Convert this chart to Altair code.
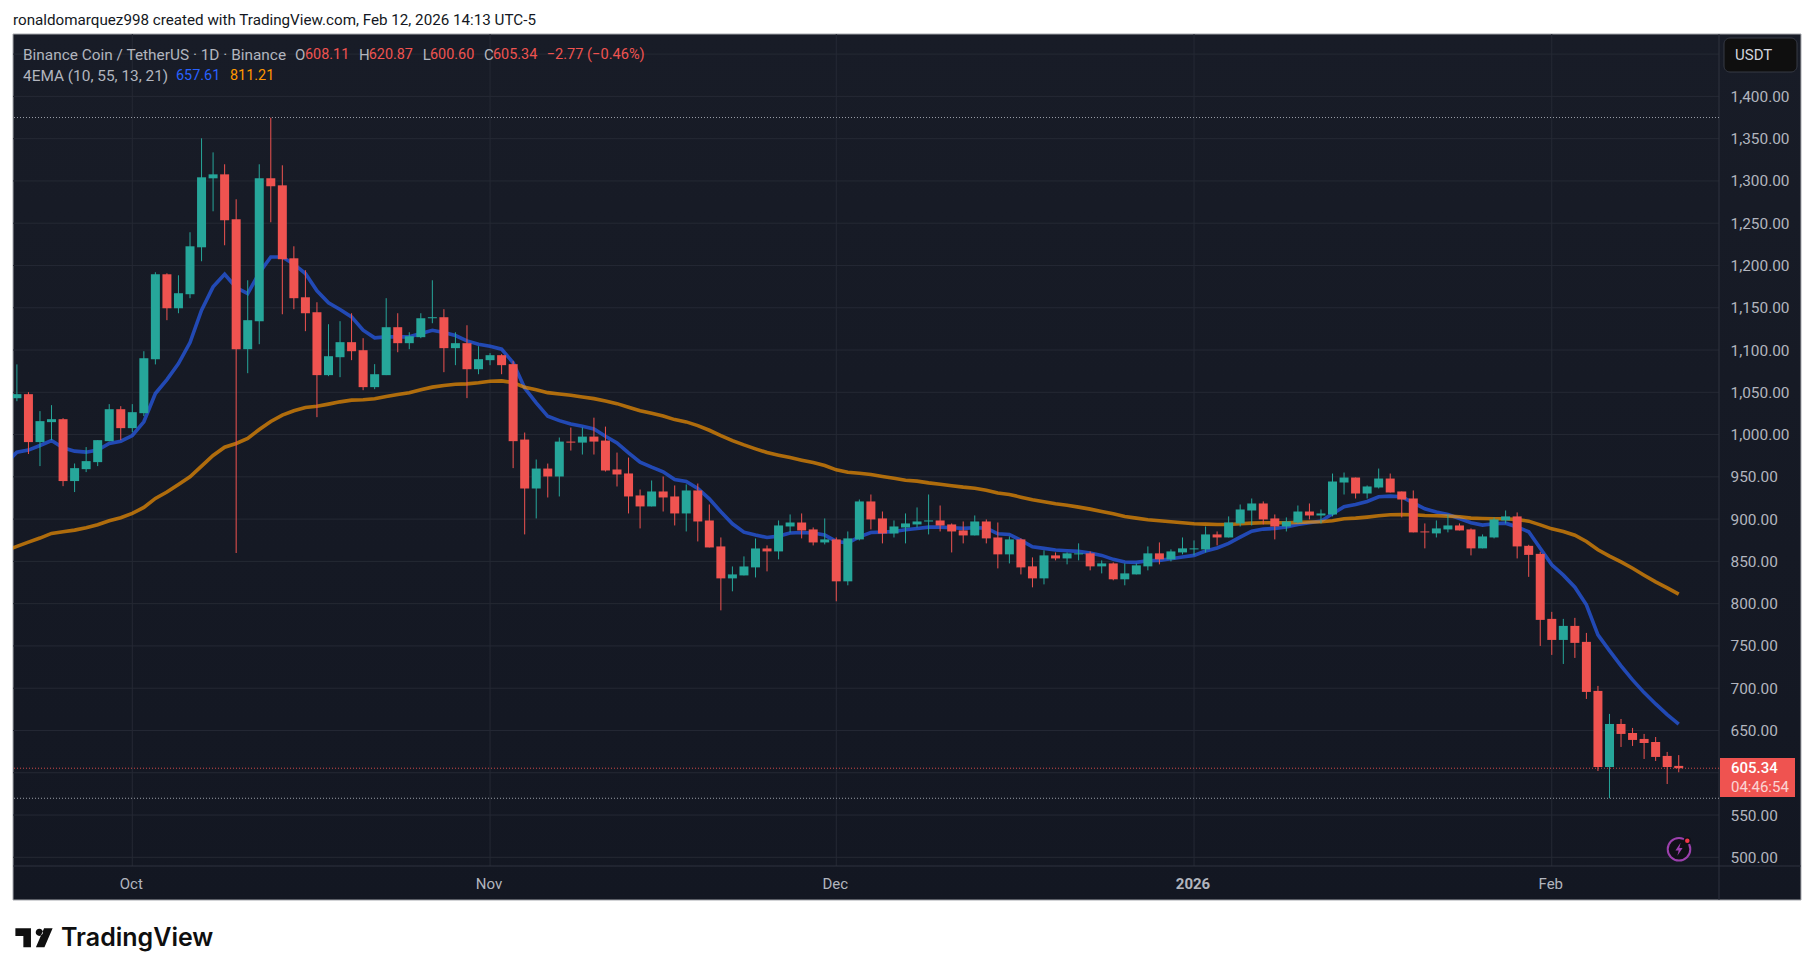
import altair as alt
import pandas as pd

# Daily candles, Sep 21 2025 (index 0) to Feb 12 2026 (index 144)
opens = [1043.0,1047.8,991.1,1014.7,1018.2,945.0,959.1,967.4,992.2,1030.0,
1007.6,1025.3,1089.2,1189.6,1149.4,1166.0,1221.5,1303.1,1307.8,1254.6,
1101.0,1134.1,1303.1,1294.8,1208.5,1162.4,1144.7,1070.3,1091.5,1109.3,
1099.8,1056.1,1070.3,1127.0,1108.1,1115.2,1137.6,1138.8,1102.2,1108.1,
1077.3,1088.0,1093.9,1083.3,994.1,936.2,959.8,950.4,991.7,990.5,
997.6,992.9,958.7,954.0,928.0,915.0,932.7,926.8,906.7,933.9,
898.4,867.7,829.9,833.4,842.9,865.3,861.8,891.3,896.0,887.8,
872.4,876.0,826.4,876.0,920.9,900.8,883.0,890.1,893.7,897.2,
898.4,893.7,886.6,880.7,897.2,878.3,858.3,876.0,844.1,829.9,
857.1,853.5,858.3,859.5,844.1,847.6,828.8,834.6,844.1,859.5,
852.4,860.6,864.2,864.2,881.9,878.3,894.9,910.2,918.5,900.8,
891.3,896.0,909.0,904.3,905.5,943.3,949.2,930.3,937.4,948.0,
932.7,924.4,885.4,883.1,887.8,892.5,887.8,865.4,878.3,898.4,
903.2,868.4,858.9,782.0,757.1,773.7,754.8,696.8,606.8,657.7,
647.0,640.0,636.4,619.9,608.11]
closes = [1047.8,991.1,1015.9,1018.2,945.0,960.3,968.6,993.4,1030.0,1007.6,
1026.5,1090.3,1189.6,1149.4,1167.2,1222.7,1304.3,1307.8,1253.5,1101.0,
1135.3,1303.1,1293.6,1207.4,1161.3,1143.5,1070.3,1092.7,1109.3,1098.6,
1056.1,1071.4,1127.0,1108.1,1116.3,1137.6,1138.8,1102.2,1108.1,1077.3,
1089.2,1093.9,1082.1,992.2,936.2,959.8,950.4,991.7,990.5,997.6,
991.7,957.5,952.8,926.8,915.0,932.7,925.6,906.7,933.9,897.2,
866.5,829.9,834.6,844.0,865.3,861.8,892.5,896.0,886.6,872.4,
876.0,826.4,877.2,920.9,899.6,883.0,891.3,894.9,897.2,898.4,
892.5,885.4,880.7,897.2,877.2,858.3,876.0,842.9,829.9,857.1,
853.5,859.5,859.5,844.1,847.6,828.8,835.8,845.3,859.5,852.4,
861.8,865.4,865.4,881.9,878.3,896.0,911.4,918.5,899.6,891.3,
897.2,909.0,904.3,906.7,944.5,949.2,930.3,938.6,948.0,931.5,
923.2,884.3,884.3,889.0,892.5,886.6,865.4,879.5,899.6,903.2,
867.7,857.7,780.8,757.1,773.7,753.6,695.6,606.8,657.7,645.9,
638.8,635.2,618.7,606.8,605.34]
highs = [1083,1050.2,1027.7,1034.8,1019.4,965.8,985.2,993.4,1036,1033.6,
1036,1098.6,1192,1190.8,1188.4,1239.3,1350.4,1333.8,1319.7,1278.3,
1182.5,1319.7,1374.8,1318.5,1222.7,1194.4,1156.5,1130.5,1134.1,1143.5,
1114,1083.3,1161.3,1143.5,1121,1143.5,1182.5,1148.3,1121,1129.3,
1104.5,1096.3,1095.1,1086.8,1002.4,970.5,965.7,996.5,1008.3,1008.3,
1020,1009.4,978.7,972.8,935,945.7,950.4,939.8,941,942.1,
917.3,878.3,844,855.9,877.1,868.9,898.4,905.5,906.7,890.1,
900.8,878.3,885.4,923.2,929.1,909,898.4,906.7,913.8,929.1,
916.1,894.9,897.2,904.3,899.6,896,879.5,877.2,854.7,863,
860.6,860.6,871.3,861.8,851.2,848.8,847.6,847.6,867.7,872.4,
864.2,878.3,874.8,891.3,885.4,903.2,917.3,924.4,920.9,905.5,
902,916.1,918.5,911.4,953.9,955.1,949.2,939.8,959.8,953.9,
932.7,933.9,894.9,898.4,905.5,894.9,889,881.9,902,910.2,
907.9,869.6,861.3,790.3,782,783.2,765.4,702.7,669.6,663.6,
653,645.9,642.3,624.6,620.87]
lows = [1039.5,977,962.7,993.4,939,932,955.6,962.7,992,993.4,
1002.9,1021.8,1083,1135.3,1143.5,1161.3,1205,1264.1,1223.9,859.9,
1072.6,1106.9,1251.1,1142.3,1148.3,1122.3,1020.6,1069.1,1067.9,1088,
1052.5,1053.7,1070.3,1097.4,1101,1114,1131.7,1073.8,1082.1,1043.1,
1071.4,1082.1,1071.4,960.3,881.9,900.8,925.6,926.8,981.1,976.4,
976.4,956.3,938.6,906.7,889,915,909,892.5,885.4,873.6,
866.5,792.1,814.6,833.4,831,838.2,852.4,884.2,877.2,868.9,
870.1,802.8,821.7,874.8,887.8,871.3,878.3,871.3,890.1,881.9,
885.4,860.6,871.3,880.7,871.3,841.7,847.6,834.6,819.3,822.8,
851.2,846.5,851.2,839.4,835.8,827.6,821.7,834.6,839.4,846.5,
850,858.3,857.1,860.6,868.9,878.3,891.3,892.5,893.7,876,
885.4,894.9,899.6,894.9,903.2,929.1,924.4,924.4,936.2,931.5,
902,884.3,865.4,878.3,884.3,886.6,857.1,865.4,877.2,894.9,
853.5,831.7,750,739.4,728.7,735.8,687.3,602.1,569.8,630.5,
631.7,616.3,613.9,586.7,600.6]

# EMA series start one day earlier (index -1)
ema_fast = [965,979.2,981.6,987.1,993,984.4,980.4,979.2,981.6,989.5,992.2,
998.9,1015.1,1048.6,1065.1,1084,1108.9,1147.1,1174.7,1189.6,1173.9,
1166.8,1191.2,1210.1,1210.1,1201.5,1190.4,1170,1155.8,1147.9,1139.2,
1123.4,1114.4,1115.6,1115.6,1115.6,1119.5,1123.4,1120.7,1117.1,1110.8,
1106.9,1104.5,1101,1085,1055,1037.4,1021.6,1016.5,1012.6,1009.8,
1006.7,998,990.2,978.3,967.3,961.4,955.9,946.8,944.5,936.2,
924,908.7,894.5,884.6,881.1,878.3,879.9,883.5,884.2,883.5,
881.1,873.6,872,879.1,884.2,884.6,885.4,887.4,889,890.5,
890.5,889.8,889,889.8,889.4,882.7,881.9,874.8,867.3,865.4,
863.4,862.6,861.8,859.8,857.1,852.4,849.2,848.8,850.8,851.2,
853.2,855.1,857.1,862.2,865.8,871.3,878.7,885.8,888.2,889,
890.6,893.7,895.7,897.6,906.3,914.6,917.3,920.9,926.4,927.2,
926.4,919.3,912.2,908.3,905.5,900.8,895.7,892.9,894.5,895.2,
890.7,885,865.6,845.9,833.7,819.5,798.6,763.1,744.5,726.4,
709.8,694.8,681.4,668.8,657.61]
ema_slow = [862.6,867.7,872.8,877.6,883.1,885.1,887,889.8,893.3,898.1,901.6,
906.7,913.8,924.5,932,941,950.1,962.7,975.3,985.1,989.5,
995.4,1006,1015.5,1023,1028.1,1032,1033.6,1036,1038.7,1040.7,
1041.1,1042.3,1045,1047.4,1049.4,1052.9,1056.1,1058,1059.6,1060,
1061.2,1063,1063.5,1061.5,1055.9,1053.1,1049.6,1048,1046.5,1044.5,
1042.5,1039.8,1036.6,1032.3,1028.3,1025.2,1022,1017.7,1015,1010.6,
1005.1,998.8,992.9,987.8,983.1,978.7,975.6,972.8,969.7,966.9,
963.4,958.3,955.5,954.3,952.7,950.4,948.4,946,944.9,942.9,
941.3,939.4,937.8,936.6,934.2,930.9,929.1,926,922.8,920.5,
918.1,916.5,914.2,911.8,909,906.3,903.2,901.2,899.2,898,
896.9,895.7,894.5,894.1,893.7,893.7,894.5,895.3,895.7,895.7,
895.7,896.1,896.5,896.9,898,900.4,901.2,902.4,903.9,905.1,
905.5,905.1,904.3,903.9,903.5,902.8,901.2,900.8,900.4,900.4,
899.4,897.6,893.2,888.5,885.4,881,873.5,863.7,856.2,849.4,
841.9,833.7,825.8,818.7,811.21]

price_labels = [500,550,650,700,750,800,850,900,950,1000,1050,1100,1150,1200,1250,1300,1350,1400]
price_grid = [500,550,600,650,700,750,800,850,900,950,1000,1050,1100,1150,1200,1250,1300,1350,1400,1450]
month_ticks = [10,41,71,102,133]
month_names = ["Oct","Nov","Dec","2026","Feb"]
all_time_high = 1375.0
recent_low = 569.8
last_price = 605.34

UP, DOWN = "#26a69a", "#ef5350"
TEXT = "#b2b5be"
GRID = "#252934"
SEP = "#2f333e"
FONT = "Roboto"
PANE_W, PANE_H = 1706, 832
FULL_W, FULL_H = 1788, 866

candles = pd.DataFrame({"day": range(len(opens)), "open": opens, "high": highs,
                        "low": lows, "close": closes})
candles["dir"] = ["up" if c >= o else "down" for o, c in zip(opens, closes)]
ema = pd.DataFrame({"day": range(-1, len(ema_fast) - 1), "fast": ema_fast, "slow": ema_slow})

xscale = alt.Scale(domain=[-0.338, 147.49], nice=False, zero=False, padding=0)
yscale = alt.Scale(domain=[489.7, 1473.8], nice=False, zero=False)
colorscale = alt.Scale(domain=["up", "down"], range=[UP, DOWN])
one = alt.Data(values=[{"a": 1}])

label_expr = "".join(f"datum.value=={t}?'{n}':" for t, n in zip(month_ticks, month_names)) + "''"
xaxis = alt.Axis(
    values=month_ticks, labelExpr=label_expr, title=None, grid=False, domain=False,
    ticks=False, labelColor=TEXT, labelFont=FONT, labelFontSize=15, labelPadding=10, labelOffset=-1.5,
    labelFontWeight={"condition": {"test": "datum.value==102", "value": "bold"}, "value": "normal"},
    zindex=1, labelOverlap=False, labelFlush=False)
yaxis = alt.Axis(
    orient="right", values=price_labels, format=",.2f", title=None, grid=False, domain=False,
    ticks=False, labelColor=TEXT, labelFont=FONT, labelFontSize=15.4, labelPadding=11,
    zindex=1, labelOverlap=False, labelFlush=False)

panel = alt.Chart(one).mark_rect(
    color=alt.Gradient(gradient="linear", x1=0, x2=0, y1=0, y2=1,
                       stops=[alt.GradientStop(color="#181c27", offset=0),
                              alt.GradientStop(color="#131722", offset=1)]),
    stroke="#a6a8ad", strokeWidth=1, clip=False,
).encode(x=alt.value(0), x2=alt.value(FULL_W), y=alt.value(0), y2=alt.value(FULL_H))

hgrid = alt.Chart(pd.DataFrame({"p": price_grid})).mark_rule(color=GRID, strokeWidth=1).encode(
    y=alt.Y("p:Q", scale=yscale, axis=yaxis))
vgrid = alt.Chart(pd.DataFrame({"d": month_ticks})).mark_rule(color=GRID, strokeWidth=1).encode(
    x=alt.X("d:Q", scale=xscale, axis=xaxis))

sep_h = alt.Chart(one).mark_rule(color=SEP, strokeWidth=1).encode(
    x=alt.value(0), x2=alt.value(FULL_W), y=alt.value(PANE_H))
sep_v = alt.Chart(one).mark_rule(color=SEP, strokeWidth=1).encode(
    x=alt.value(PANE_W), y=alt.value(0), y2=alt.value(FULL_H))

def dotted(value, color):
    return alt.Chart(pd.DataFrame({"p": [value]})).mark_rule(
        color=color, strokeWidth=1, strokeDash=[1, 2], opacity=0.85
    ).encode(y=alt.Y("p:Q", scale=yscale, axis=yaxis))

line_fast = alt.Chart(ema).mark_line(color="#2962ff", strokeWidth=3.6, opacity=0.66, clip=True).encode(
    x=alt.X("day:Q", scale=xscale, axis=xaxis), y=alt.Y("fast:Q", scale=yscale, axis=yaxis))
line_slow = alt.Chart(ema).mark_line(color="#ff9800", strokeWidth=3.6, opacity=0.66, clip=True).encode(
    x=alt.X("day:Q", scale=xscale, axis=xaxis), y=alt.Y("slow:Q", scale=yscale, axis=yaxis))

wicks = alt.Chart(candles).mark_rule(strokeWidth=1, clip=True).encode(
    x=alt.X("day:Q", scale=xscale, axis=xaxis),
    y=alt.Y("low:Q", scale=yscale, axis=yaxis),
    y2="high:Q",
    color=alt.Color("dir:N", scale=colorscale, legend=None),
)
bodies = alt.Chart(candles).mark_bar(width=9, clip=True).encode(
    x=alt.X("day:Q", scale=xscale, axis=xaxis),
    y=alt.Y("open:Q", scale=yscale, axis=yaxis),
    y2="close:Q",
    color=alt.Color("dir:N", scale=colorscale, legend=None),
)

def txt(s, x, y, color=TEXT, size=14, weight="normal", font=FONT, opacity=1):
    return alt.Chart(alt.Data(values=[{"t": s}])).mark_text(
        align="left", baseline="middle", color=color, fontSize=size, fontWeight=weight,
        font=font, clip=False, opacity=opacity,
    ).encode(x=alt.value(x), y=alt.value(y), text="t:N")

tag = alt.Chart(one).mark_rect(color=DOWN).encode(
    x=alt.value(1707), x2=alt.value(1782), y=alt.value(724), y2=alt.value(763))
usdt = alt.Chart(one).mark_rect(color="#0f0f0f", stroke="#363a45", strokeWidth=1, cornerRadius=6).encode(
    x=alt.value(1711), x2=alt.value(1784), y=alt.value(4), y2=alt.value(38))

def glyph(path, x, y, size, **kw):
    return alt.Chart(one).mark_point(shape=path, size=size, clip=False, **kw).encode(
        x=alt.value(x), y=alt.value(y))

BOLT = "M0.25,-1 L-0.55,0.2 L-0.05,0.2 L-0.25,1 L0.55,-0.2 L0.05,-0.2 Z"
LOGO = ("M-0.98,-0.49 L-0.16,-0.49 L-0.16,0.51 L-0.56,0.51 L-0.56,-0.08 L-0.98,-0.08 Z "
        "M0.09,-0.28 a0.19,0.19 0 1,0 0.38,0 a0.19,0.19 0 1,0 -0.38,0 Z "
        "M0.53,-0.49 L0.98,-0.49 L0.55,0.51 L0.1,0.51 Z")

marks = [
    panel, hgrid, vgrid, sep_h, sep_v,
    dotted(all_time_high, "#b2b5be"), dotted(recent_low, "#b2b5be"), dotted(last_price, DOWN),
    line_fast, line_slow, wicks, bodies, tag, usdt,
    txt("USDT", 1722, 21, "#d1d4dc", 15),
    txt("605.34", 1718, 734, "#ffffff", 15, 500),
    txt("04:46:54", 1718, 753, "#ffffff", 15, "normal", opacity=0.75),
    txt("ronaldomarquez998 created with TradingView.com, Feb 12, 2026 14:13 UTC-5", 0, -14, "#131722", 15.2),
    txt("Binance Coin / TetherUS · 1D · Binance", 10, 20.5, TEXT, 15.4),
    txt("O", 282, 20.5, TEXT, 15), txt("608.11", 292, 20.5, DOWN, 14.4),
    txt("H", 346, 20.5, TEXT, 15), txt("620.87", 355.7, 20.5, DOWN, 14.4),
    txt("L", 409.7, 20.5, TEXT, 15), txt("600.60", 417, 20.5, DOWN, 14.4),
    txt("C", 471, 20.5, TEXT, 15), txt("605.34", 480, 20.5, DOWN, 14.4),
    txt("−2.77 (−0.46%)", 533.7, 20.5, DOWN, 14.6),
    txt("4EMA (10, 55, 13, 21)", 10, 41.5, TEXT, 15.4),
    txt("657.61", 163, 41.5, "#2962ff", 14.4),
    txt("811.21", 217, 41.5, "#ff9800", 14.4),
    glyph("circle", 1666, 815.3, 510, filled=True, fill="#0f1016", stroke="#9c40ad", strokeWidth=2, opacity=1),
    glyph(BOLT, 1666, 815.3, 170, filled=True, color="#9c40ad", opacity=1),
    glyph("circle", 1674.3, 806.7, 36, filled=True, fill="#f23645", stroke="#0f1016", strokeWidth=1.5, opacity=1),
    glyph(LOGO, 21, 903.6, 1444, filled=True, color="#0f0f0f", opacity=1),
    txt("TradingView", 48, 903.6, "#0f0f0f", 25, 600, "Inter"),
]

chart = alt.layer(*marks).resolve_scale(color="shared").properties(
    width=PANE_W, height=PANE_H,
    padding={"left": 5, "top": 26, "right": 84, "bottom": 100},
    autosize=alt.AutoSizeParams(type="none"),
    background="white",
).configure_view(stroke=None)

chart.save("out.html", embed_options={"renderer": "svg", "actions": False})
